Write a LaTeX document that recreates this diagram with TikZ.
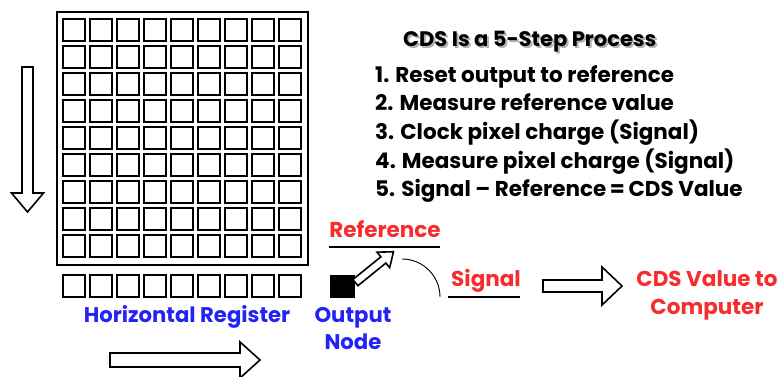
\documentclass[tikz,border=0pt]{standalone}
\usepackage{fontspec}
\setmainfont{Poppins}
\usetikzlibrary{positioning,calc}
\definecolor{cdsred}{RGB}{245,45,45}
\definecolor{cdsblue}{RGB}{35,35,245}
\tikzset{
  pixel/.style={draw,line width=1.8pt},
  frame/.style={draw,line width=2.4pt},
  blockarrow/.style={draw,line width=1.6pt,fill=white,line join=miter},
  redlabel/.style={text=cdsred,font=\fontsize{21.5}{28}\selectfont\bfseries,inner sep=0pt,align=center},
  bluelabel/.style={text=cdsblue,font=\fontsize{21.2}{27}\selectfont\bfseries,inner sep=0pt,align=center},
  steps/.style={font=\fontsize{21.5}{28.7}\selectfont\bfseries,inner sep=0pt,align=left},
}
% hollow arrow along +x: options, length, shaft half width, head half width, head length
\newcommand{\blockarrow}[5]{%
  \begin{scope}[#1]
    \draw[blockarrow] (0,-#3) -- ({#2-#5},-#3) -- ({#2-#5},-#4) -- (#2,0)
      -- ({#2-#5},#4) -- ({#2-#5},#3) -- (0,#3) -- cycle;
  \end{scope}}
\begin{document}
\begin{tikzpicture}[x=1pt,y=1pt]
\useasboundingbox (0,0) rectangle (782,377);
% imaging area
\draw[frame] (57,112) rectangle (308,365);
\foreach \i in {0,...,8}
  \foreach \j in {0,...,8}
    \draw[pixel] ({63+27*\i},{336-27*\j}) rectangle ++(22,22);
% horizontal register
\foreach \i in {0,...,8}
  \draw[pixel] ({63+27*\i},80) rectangle ++(22,22);
\node[bluelabel,anchor=base] (hreg) at (187,54) {Horizontal Register};
% output node
\node[fill=black,minimum width=25pt,minimum height=23pt,inner sep=0pt,anchor=south west] (outnode) at (330,79) {};
\node[bluelabel,anchor=base] (outlabel) at (353,27) {Output\\Node};
% reference and signal levels
\node[redlabel,anchor=base] (reftext) at (385,139) {Reference};
\coordinate (refstart) at (329,130);
\coordinate (refend) at (440,130);
\draw[line width=1.5pt] (refstart) -- (refend);
\node[redlabel,anchor=base] (sigtext) at (486,90) {Signal};
\coordinate (sigstart) at (448,80);
\coordinate (sigend) at (520,80);
\draw[line width=1.5pt] (sigstart) -- (sigend);
\coordinate (swing) at (402,118);
\draw[line width=0.9pt] (swing) arc[start angle=90,end angle=0,radius=38];
% charge transfer arrows
\blockarrow{shift={(27.5,310)},rotate=-90}{145}{5.5}{16}{19}
\blockarrow{shift={(110,17)}}{150}{7}{18}{20}
\blockarrow{shift={($(outnode.north east)+(0,-8)$)},rotate=39}{49}{4}{10}{13}
\blockarrow{shift={(543,91)}}{79}{6}{19}{20}
\node[redlabel,anchor=base] (cdsout) at (707,62) {CDS Value to\\Computer};
% steps
\node[anchor=base west,inner sep=0pt,font=\fontsize{21}{24}\selectfont\bfseries,text=black!30] at (405,328) {CDS Is a 5-Step Process};
\node[anchor=base west,inner sep=0pt,font=\fontsize{21}{24}\selectfont\bfseries] (title) at (403,330) {CDS Is a 5-Step Process};
\node[steps,anchor=base west] (steplist) at (375,180) {1. Reset output to reference\\
  2. Measure reference value\\
  3. Clock pixel charge (Signal)\\
  4. Measure pixel charge (Signal)\\
  5. Signal -- Reference\,=\,CDS Value};
\end{tikzpicture}
\end{document}
